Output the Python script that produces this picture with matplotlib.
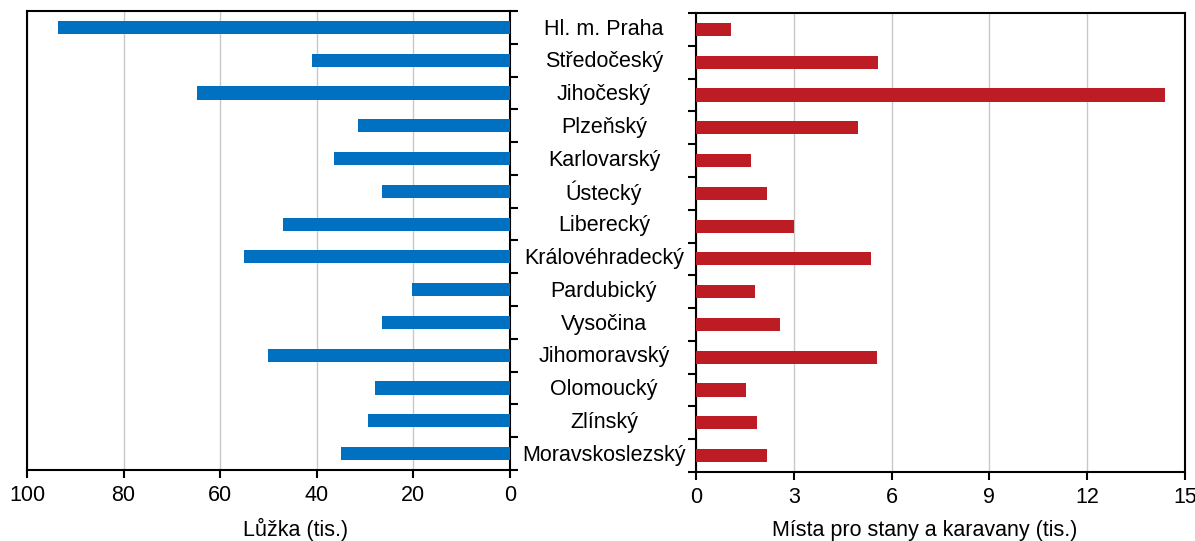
import matplotlib.pyplot as plt
import matplotlib.transforms as mtransforms
import numpy as np

plt.rcParams['font.family'] = ['Liberation Sans', 'DejaVu Sans']

kraje = ['Hl. m. Praha', 'Středočeský', 'Jihočeský', 'Plzeňský', 'Karlovarský',
         'Ústecký', 'Liberecký', 'Královéhradecký', 'Pardubický', 'Vysočina',
         'Jihomoravský', 'Olomoucký', 'Zlínský', 'Moravskoslezský']
luzka = [93.6, 40.9, 64.7, 31.5, 36.5, 26.6, 47.1, 55.0, 20.3, 26.6, 50.2, 28.0, 29.3, 34.9]
mista = [1.08, 5.57, 14.38, 4.96, 1.69, 2.19, 3.02, 5.36, 1.82, 2.59, 5.54, 1.54, 1.88, 2.19]

W, H = 1195, 541
fig = plt.figure(figsize=(W / 100, H / 100), dpi=100)

def box(x0, y0, x1, y1):
    return [x0 / W, 1 - y1 / H, (x1 - x0) / W, (y1 - y0) / H]

axL = fig.add_axes(box(27, 11, 510, 470))
axR = fig.add_axes(box(696, 13, 1185, 472))

y = np.arange(len(kraje))
fs = 15.5

for ax, vals, col in [(axL, luzka, '#0070C0'), (axR, mista, '#BE1C24')]:
    ax.barh(y, vals, height=0.4, color=col, zorder=3)
    ax.set_ylim(len(kraje) - 0.5, -0.5)
    ax.set_yticks([])
    ax.set_yticks(np.arange(-0.5, len(kraje)), minor=True)
    ax.tick_params(axis='y', which='minor', length=6, width=1.5, direction='out')
    ax.tick_params(axis='x', length=6, width=1.5, direction='out', labelsize=fs, pad=5)
    ax.grid(axis='x', color='#c8c8c8', lw=1, zorder=0)
    for s in ax.spines.values():
        s.set_linewidth(1.5)

axL.set_xlim(100, 0)
axL.set_xticks([100, 80, 60, 40, 20, 0])
axL.yaxis.tick_right()
axL.set_xlabel('Lůžka (tis.)', fontsize=fs)
axL.xaxis.set_label_coords(0.555, -0.105)

axR.set_xlim(0, 15)
axR.set_xticks([0, 3, 6, 9, 12, 15])
axR.set_xlabel('Místa pro stany a karavany (tis.)', fontsize=fs)
axR.xaxis.set_label_coords(0.468, -0.105)

trans = mtransforms.blended_transform_factory(fig.transFigure, axL.transData)
for i, k in enumerate(kraje):
    fig.text(604 / W, i + 0.05, k, transform=trans, ha='center', va='center', fontsize=fs)

fig.savefig('out.png', dpi=100)
